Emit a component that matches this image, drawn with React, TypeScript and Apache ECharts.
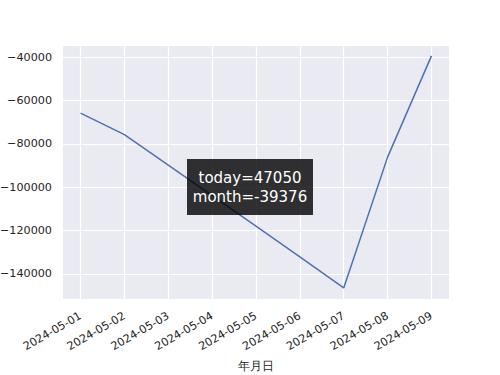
import React, { useEffect, useRef } from "react";
import * as echarts from "echarts";

const dates = [
  "2024-05-01", "2024-05-02", "2024-05-03", "2024-05-04", "2024-05-05",
  "2024-05-06", "2024-05-07", "2024-05-08", "2024-05-09",
];
const values = [-65800, -75700, -89800, -103900, -118000, -132200, -146500, -86100, -39376];
const yTicks = [-140000, -120000, -100000, -80000, -60000, -40000];
const xTickIdx = [0, 1, 2, 3, 4, 5, 6, 7, 8];
const xName = "年月日";
const annotation = ["today=47050", "month=-39376"];

const FONT = "'DejaVu Sans', sans-serif";

export default function App() {
  const ref = useRef<HTMLDivElement>(null);
  useEffect(() => {
    if (!ref.current) return;
    const chart = echarts.init(ref.current, null, { renderer: "svg" });
    chart.setOption({
      animation: false,
      backgroundColor: "#ffffff",
      grid: {
        left: 63,
        right: 51,
        top: 46,
        bottom: 76,
        show: true,
        backgroundColor: "#EAEAF2",
        borderWidth: 0,
        containLabel: false,
        outerBoundsMode: "none",
      },
      xAxis: {
        type: "value",
        min: -0.4,
        max: 8.4,
        name: xName,
        nameLocation: "middle",
        nameGap: 61,
        nameTextStyle: { color: "#262626", fontSize: 12, fontFamily: FONT },
        axisLine: { show: false },
        axisTick: { show: false, customValues: xTickIdx },
        axisLabel: {
          customValues: xTickIdx,
          rotate: 30,
          margin: 16,
          color: "#262626",
          fontSize: 11.2,
          fontFamily: FONT,
          formatter: (v: number) => dates[Math.round(v)] ?? "",
        },
        splitLine: { show: true, lineStyle: { color: "#ffffff", width: 1.2 } },
      },
      yAxis: {
        type: "value",
        min: -151600,
        max: -34800,
        axisLine: { show: false },
        axisTick: { show: false, customValues: yTicks },
        axisLabel: {
          customValues: yTicks,
          margin: 11,
          color: "#262626",
          fontSize: 11.2,
          fontFamily: FONT,
          formatter: (v: number) => (v < 0 ? "\u2212" + Math.abs(v) : String(v)),
        },
        splitLine: { show: true, lineStyle: { color: "#ffffff", width: 1.2 } },
      },
      series: [
        {
          type: "line",
          data: values.map((v, i) => [i, v]),
          showSymbol: false,
          lineStyle: { color: "#4C72B0", width: 1.5 },
          z: 2,
        },
      ],
      graphic: [
        {
          type: "rect",
          shape: { x: 187, y: 159, width: 126, height: 56 },
          style: { fill: "rgba(0,0,0,0.8)" },
          z: 100,
        },
        {
          type: "text",
          x: 250,
          y: 187,
          style: {
            text: annotation.join("\n"),
            fill: "#ffffff",
            fontSize: 15,
            fontFamily: FONT,
            align: "center",
            verticalAlign: "middle",
            lineHeight: 19,
          },
          z: 101,
        },
      ],
    });
    return () => chart.dispose();
  }, []);
  return (
    <div
      ref={ref}
      style={{ position: "fixed", left: 0, top: 0, width: 500, height: 375 }}
    />
  );
}
